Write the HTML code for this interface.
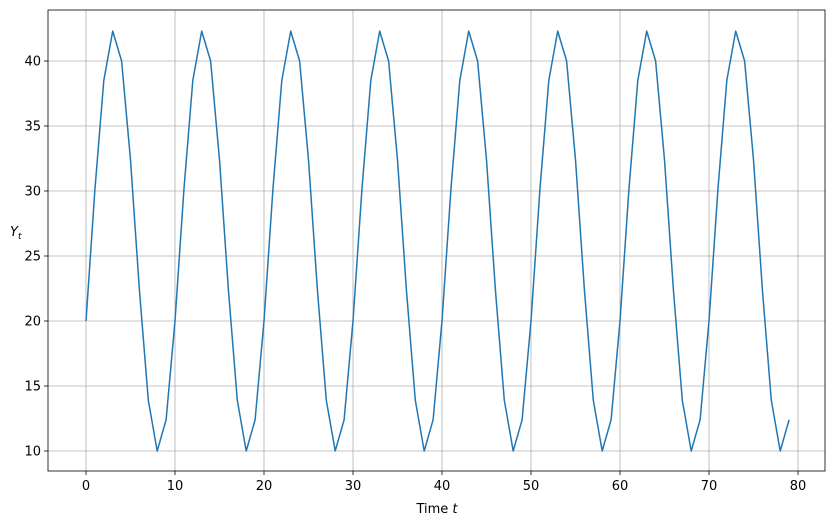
<!DOCTYPE html>
<html><head><meta charset="utf-8"><style>
body{margin:0;background:#fff;}
svg{display:block;font-family:"DejaVu Sans","Liberation Sans",sans-serif;}
</style></head><body>
<svg id="s" width="835" height="526" xmlns="http://www.w3.org/2000/svg">
<rect width="835" height="526" fill="#fff"/>
<g id="grid" stroke="#b0b0b0" stroke-width="0.8"></g>
<polyline id="line" fill="none" stroke="#1f77b4" stroke-width="1.5" stroke-linejoin="round"/>
<rect x="48" y="10" width="777" height="461" fill="none" stroke="#000" stroke-width="0.8"/>
<g id="ticks" font-size="13" fill="#000"></g>
<text x="437" y="513" font-size="13" text-anchor="middle">Time <tspan font-style="italic">t</tspan></text>
<text x="10" y="236" font-size="13" font-style="italic">Y<tspan font-size="9" dy="3">t</tspan></text>
</svg>
<script>
var X=function(t){return 86+t*8.9;},Y=function(v){return 451-(v-10)*13;};
var g=document.getElementById('grid'),tk=document.getElementById('ticks'),ns="http://www.w3.org/2000/svg",h='',th='';
for(var t=0;t<=80;t+=10){var x=X(t);h+='<line x1="'+x+'" y1="10" x2="'+x+'" y2="471"/>';th+='<line x1="'+x+'" y1="471" x2="'+x+'" y2="475" stroke="#000" stroke-width="0.8"/><text x="'+x+'" y="490" text-anchor="middle">'+t+'</text>';}
for(var v=10;v<=40;v+=5){var y=Y(v);h+='<line x1="48" y1="'+y+'" x2="825" y2="'+y+'"/>';th+='<line x1="44" y1="'+y+'" x2="48" y2="'+y+'" stroke="#000" stroke-width="0.8"/><text x="41" y="'+(y+4.5)+'" text-anchor="end">'+v+'</text>';}
g.innerHTML=h;tk.innerHTML=th;
var p=[20,30.1,38.5,42.3,40,32.4,22.4,13.9,10,12.4],pts=[];
for(var t=0;t<80;t++)pts.push(X(t).toFixed(1)+','+Y(p[t%10]).toFixed(1));
document.getElementById('line').setAttribute('points',pts.join(' '));
</script>
</body></html>
